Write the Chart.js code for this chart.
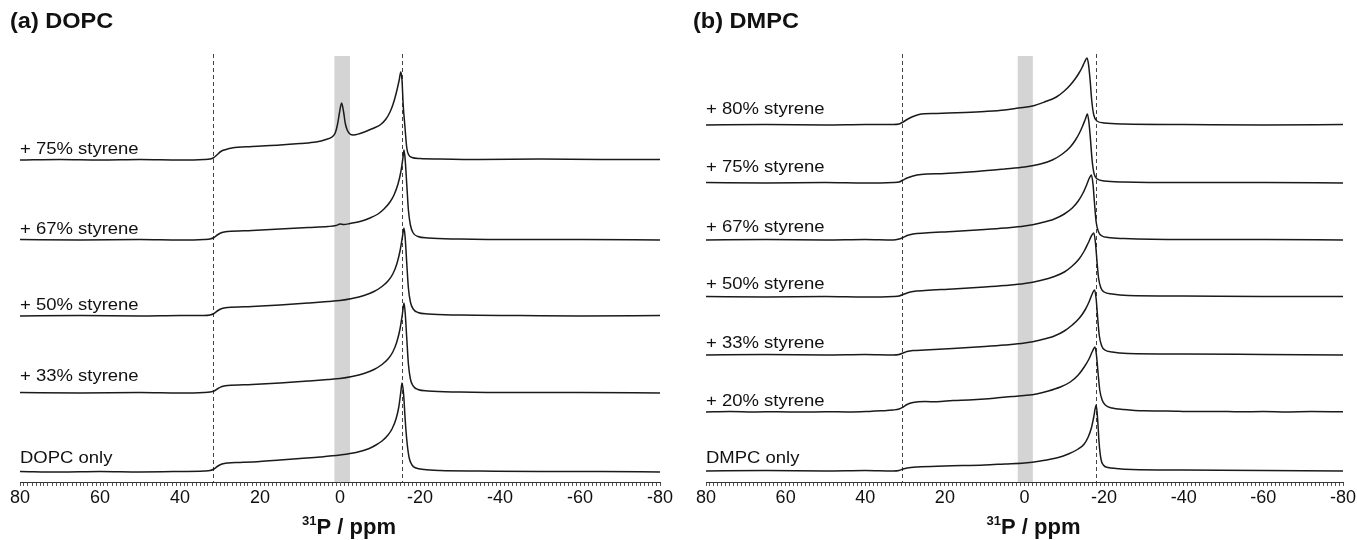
<!DOCTYPE html>
<html>
<head>
<meta charset="utf-8">
<script src="https://cdn.jsdelivr.net/npm/chart.js@4.4.1/dist/chart.umd.min.js"></script>
<style>
  html, body { margin: 0; padding: 0; background: #fff; overflow: hidden; }
  .panel { position: absolute; top: 0; height: 540px; }
  #left { left: 0; width: 680px; }
  #right { left: 680px; width: 700px; }
</style>
</head>
<body>
<div id="left" class="panel"><canvas id="dopcChart"></canvas></div>
<div id="right" class="panel"><canvas id="dmpcChart"></canvas></div>
<script>
// x axis (ppm) ticks that carry a label
const tickValues = [80, 60, 40, 20, 0, -20, -40, -60, -80];

// ---- (a) DOPC ----  [ppm, intensity above the trace's own baseline]
const dopcLabels = ['+ 75% styrene', '+ 67% styrene', '+ 50% styrene', '+ 33% styrene', 'DOPC only'];
const dopcOffsets = [322, 242, 166, 89, 10];
const dopcGuides = [31.7, -15.5];
const dopcBand = [1.4, -2.5];

const dopc75 = [[80,0],[70,0.5],[60,0],[50,0.5],[40,0],[34,0.5],[32.5,1],[31.7,2],[30.8,5],[29.8,8.5],[28.5,10.5],[27,12],[22,13.5],[15,15],[10,16.5],[6,18],[3.5,20.5],[2,23],[1.2,27],[0.6,36],[0.1,48],[-0.4,57],[-0.9,48],[-1.3,37],[-1.8,30],[-2.5,26],[-3.3,25],[-5,26.5],[-6.7,29],[-8.5,32],[-10,35],[-11.5,41],[-12.5,48],[-13.2,55],[-13.8,63],[-14.3,71],[-14.8,80],[-15.2,88],[-15.5,80],[-15.8,55],[-16.2,35],[-16.7,12],[-17.2,5],[-18,2.5],[-20,1.5],[-25,1],[-35,0.5],[-50,1],[-65,0.5],[-80,0.5]];
const dopc67 = [[80,0.5],[65,0],[50,0.5],[40,0],[34,0.5],[32.5,1],[31.5,2.5],[30.5,5.5],[29.5,7.5],[28,8.5],[22,9.5],[15,11],[8,12.5],[3,13.5],[1,14.5],[0,16],[-1,15.5],[-2.5,16.5],[-5,18.5],[-7.5,22],[-9.5,26],[-11,31],[-12.5,38],[-13.5,45],[-14.5,56],[-15.2,68],[-15.7,81],[-16,90],[-16.3,80],[-16.7,55],[-17.1,30],[-17.6,15],[-18.3,7],[-19.5,3.5],[-22,2],[-30,1],[-45,0.5],[-60,0.5],[-80,0]];
const dopc50 = [[80,0],[65,0.5],[50,0],[40,0.5],[34,0.5],[32.5,1],[31.5,2.5],[30.5,5.5],[29.5,7.5],[28,8.5],[22,9.5],[15,11],[8,13],[3,14.5],[0,15.5],[-3,17.5],[-6,20.5],[-8.5,24.5],[-10.5,29.5],[-12,35],[-13.2,42],[-14.2,52],[-15,65],[-15.6,79],[-16,88],[-16.3,78],[-16.7,52],[-17.1,28],[-17.6,14],[-18.3,7],[-19.5,3.5],[-22,2],[-30,1],[-45,0.5],[-60,0],[-80,0.5]];
const dopc33 = [[80,0.5],[65,0],[50,0.5],[40,0],[34,0.5],[32.5,1],[31.5,2],[30.5,4.5],[29.5,6.5],[28,7.5],[22,8.5],[15,10],[8,12],[3,13.5],[0,14.5],[-3,16.5],[-6,19.5],[-8.5,23.5],[-10.5,28.5],[-12,34],[-13.2,41],[-14.2,51],[-15,64],[-15.6,79],[-16,90],[-16.3,80],[-16.7,54],[-17.1,29],[-17.6,14],[-18.3,7],[-19.5,3.5],[-22,2],[-30,1],[-45,0.5],[-60,0.5],[-80,0]];
const dopcOnly = [[80,0.5],[70,0],[60,0.5],[50,0],[40,0.5],[34,1],[32.5,1.5],[31.5,3],[30.5,6],[29.5,8],[28,9],[25,9.5],[20,10.5],[15,12],[10,13.5],[5,15],[0,17],[-4,19.5],[-7,23],[-9,27],[-10.5,31],[-12,37],[-13,43],[-14,53],[-14.7,65],[-15.2,80],[-15.5,89],[-15.9,78],[-16.3,52],[-16.8,28],[-17.3,14],[-18,7],[-19,4],[-21,2.5],[-25,1.5],[-35,1],[-50,0.5],[-65,0.5],[-80,0]];
const dopcSpectra = [dopc75, dopc67, dopc50, dopc33, dopcOnly];

// ---- (b) DMPC ----
const dmpcLabels = ['+ 80% styrene', '+ 75% styrene', '+ 67% styrene', '+ 50% styrene', '+ 33% styrene', '+ 20% styrene', 'DMPC only'];
const dmpcOffsets = [357, 299, 242, 185, 127, 70, 11];
const dmpcGuides = [30.7, -17.9];
const dmpcBand = [1.7, -2.1];

const dmpc80 = [[80,0],[65,0.5],[50,0],[40,0.5],[33,0.5],[31.5,1],[30.5,3],[29.5,5.5],[28,8.5],[26.5,10.5],[22,11.5],[15,12.5],[10,13.5],[5,15],[1.5,17],[-2,19],[-5,23],[-8,28],[-10,34],[-11.5,40],[-12.7,46],[-13.7,52],[-14.4,57],[-15.1,63],[-15.7,67],[-16.1,60],[-16.5,44],[-16.9,24],[-17.4,10],[-18.2,4],[-20,2],[-25,1],[-40,0.5],[-60,0],[-80,0.5]];
const dmpc75 = [[80,0.5],[65,0],[50,0.5],[40,0],[33,0.5],[31.5,1],[30.5,3],[29.5,5],[28,7],[26,8.5],[20,9.5],[12,11.5],[5,14],[0,16],[-4,19],[-7,23],[-9.5,29],[-11.5,36],[-12.8,43],[-13.8,50],[-14.6,57],[-15.3,64],[-15.8,69],[-16.2,60],[-16.6,42],[-17,22],[-17.5,9],[-18.3,4],[-20,2],[-25,1],[-40,0.5],[-60,0.5],[-80,0]];
const dmpc67 = [[80,0],[65,0.5],[50,0],[40,0.5],[33,0],[31.5,1],[30.5,2.5],[29.5,4.5],[28,6],[25,7],[18,8.5],[10,10.5],[5,12],[0,14],[-4,17],[-7.5,21],[-10,26],[-12,32],[-13.5,39],[-14.7,47],[-15.6,55],[-16.3,62],[-16.8,65],[-17.2,56],[-17.6,36],[-18,18],[-18.6,8],[-19.5,4],[-21,2.5],[-25,1.5],[-40,0.5],[-60,0.5],[-80,0]];
const dmpc50 = [[80,0.5],[65,0],[50,0.5],[40,0],[33,0.5],[31.5,1],[30.5,2.5],[29.5,4],[28,5.5],[25,6.5],[18,8],[10,10],[5,11.5],[0,13.5],[-4,16.5],[-7.5,20.5],[-10,25],[-12,31],[-13.7,38],[-15,46],[-16,54],[-16.8,61],[-17.4,64],[-17.8,55],[-18.2,36],[-18.6,19],[-19.2,9],[-20,5],[-22,3],[-26,1.5],[-40,1],[-60,0.5],[-80,0.5]];
const dmpc33 = [[80,0],[65,0.5],[50,0],[40,0.5],[33,0],[31.5,0.5],[30.5,2],[29.5,3.5],[28,4.5],[25,5],[18,6.5],[10,8.5],[5,10],[0,12],[-4,15],[-7.5,19],[-10,24],[-12,30],[-13.8,37],[-15.2,45],[-16.2,53],[-17,61],[-17.6,65],[-18,56],[-18.4,36],[-18.8,19],[-19.4,9],[-20.2,5],[-22,3],[-26,1.5],[-40,1],[-60,0.5],[-80,0]];
const dmpc20 = [[80,0],[74,0.4],[68,0],[62,0.3],[56,-0.1],[50,0.3],[44,0],[39,0.6],[36,1.2],[33,2],[31.5,3],[30.5,5],[29.5,7.5],[28,9.5],[25,10.5],[22,10.2],[18,11.5],[14,12],[10,13],[6,14.5],[3,15.5],[0,16.5],[-3,18],[-6,21],[-9,25],[-11.5,30],[-13.5,37],[-15,45],[-16.2,53],[-17.1,61],[-17.7,65],[-18.1,56],[-18.5,38],[-18.9,22],[-19.5,12],[-20.3,7],[-22,4],[-25,2.5],[-30,1.2],[-36,1],[-42,0.4],[-48,0.6],[-54,0.2],[-60,0.5],[-66,0.1],[-72,0.4],[-80,0.2]];
const dmpcOnly = [[80,0],[65,0.5],[50,0],[40,0.5],[33,0],[31.5,0.5],[30.5,2],[29.5,3],[27,4],[20,5],[10,6],[5,7],[0,8],[-4,10],[-8.5,13.5],[-11,17],[-13.5,22],[-15,27],[-16,34],[-16.8,43],[-17.4,54],[-18,66],[-18.4,50],[-18.7,30],[-19.2,12],[-19.8,6],[-21,3.5],[-23,2.5],[-27,1.5],[-40,1],[-60,0.5],[-80,0]];
const dmpcSpectra = [dmpc80, dmpc75, dmpc67, dmpc50, dmpc33, dmpc20, dmpcOnly];

const FONT = '"Liberation Sans", Arial, sans-serif';
Chart.defaults.font.family = FONT;
Chart.defaults.color = '#111';

// draws text slightly widened, like the reference figure
function wideText(ctx, t, x, y, sx) {
  ctx.save();
  ctx.translate(x, y);
  ctx.scale(sx, 1);
  ctx.fillText(t, 0, 0);
  ctx.restore();
}

// band, dashed guides, trace labels, panel title and axis title
const overlay = {
  id: 'overlay',
  beforeDatasetsDraw(chart, args, o) {
    const { ctx, chartArea: a, scales: { x } } = chart;
    ctx.save();
    ctx.fillStyle = '#d4d4d4';
    const b0 = x.getPixelForValue(o.band[0]), b1 = x.getPixelForValue(o.band[1]);
    ctx.fillRect(b0, a.top, b1 - b0, a.bottom - a.top);
    ctx.strokeStyle = '#444';
    ctx.lineWidth = 1;
    ctx.setLineDash([4, 3]);
    o.guides.forEach(v => {
      const px = Math.round(x.getPixelForValue(v)) + 0.5;
      ctx.beginPath();
      ctx.moveTo(px, a.top - 2);
      ctx.lineTo(px, a.bottom);
      ctx.stroke();
    });
    ctx.restore();
  },
  afterDatasetsDraw(chart, args, o) {
    const { ctx, chartArea: a, scales: { y } } = chart;
    ctx.save();
    ctx.fillStyle = '#111';
    ctx.font = '16.5px ' + FONT;
    ctx.textBaseline = 'alphabetic';
    o.labels.forEach((t, i) => {
      wideText(ctx, t, a.left, y.getPixelForValue(o.offsets[i]) - o.gaps[i], 1.12);
    });
    // panel title
    ctx.font = 'bold 22px ' + FONT;
    wideText(ctx, o.title, o.titleX, 28, 1.07);
    // axis title with superscript 31
    const cx = (a.left + a.right) / 2 + 9;
    ctx.font = 'bold 13px ' + FONT;
    const wSup = ctx.measureText('31').width;
    ctx.font = 'bold 22px ' + FONT;
    const wMain = ctx.measureText('P / ppm').width;
    const x0 = cx - (wSup + wMain) / 2;
    ctx.fillText('P / ppm', x0 + wSup, 534);
    ctx.font = 'bold 13px ' + FONT;
    ctx.fillText('31', x0, 525);
    ctx.restore();
  }
};

function makeChart(id, spectra, offsets, labels, gaps, guides, band, title, titleX, pad) {
  const datasets = spectra.map((pts, i) => ({
    label: labels[i],
    data: pts.map(([p, v]) => ({ x: p, y: v + offsets[i] })),
    borderColor: '#1a1a1a',
    borderWidth: 1.5,
    pointRadius: 0,
    cubicInterpolationMode: 'monotone',
    fill: false
  }));
  return new Chart(document.getElementById(id), {
    type: 'line',
    data: { datasets },
    plugins: [overlay],
    options: {
      responsive: true,
      maintainAspectRatio: false,
      animation: false,
      layout: { padding: pad },
      plugins: {
        legend: { display: false },
        tooltip: { enabled: false },
        overlay: { labels, offsets, gaps, guides, band, title, titleX }
      },
      scales: {
        x: {
          type: 'linear',
          reverse: true,
          min: -80,
          max: 80,
          border: { display: true, color: '#333', width: 1 },
          grid: { drawOnChartArea: false, drawTicks: true, tickLength: 4, color: '#555', lineWidth: 1 },
          ticks: {
            stepSize: 1,
            autoSkip: false,
            maxRotation: 0,
            padding: 1,
            color: '#111',
            font: { size: 18 },
            callback: v => tickValues.includes(v) ? String(v) : ''
          }
        },
        y: { display: false, min: 0, max: 426 }
      }
    }
  });
}

makeChart('dopcChart', dopcSpectra, dopcOffsets, dopcLabels,
  [6.5, 6.5, 6.5, 12.5, 9], dopcGuides, dopcBand, '(a) DOPC', 10,
  { left: 20, right: 20, top: 56, bottom: 30.4 });
makeChart('dmpcChart', dmpcSpectra, dmpcOffsets, dmpcLabels,
  [11.5, 11.5, 8.5, 8.5, 7.5, 6.5, 8], dmpcGuides, dmpcBand, '(b) DMPC', 13,
  { left: 26, right: 37, top: 56, bottom: 30.4 });
</script>
</body>
</html>
